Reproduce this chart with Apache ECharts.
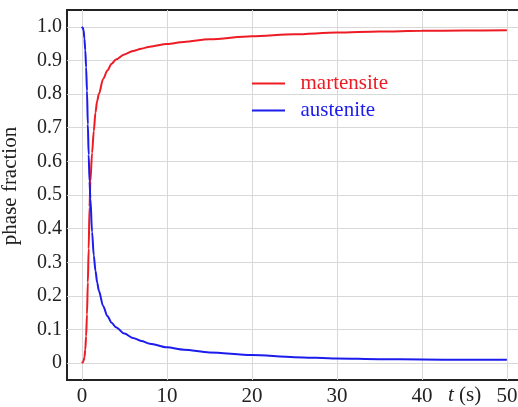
<!DOCTYPE html>
<html>
<head>
<meta charset="utf-8">
<script src="https://cdn.jsdelivr.net/npm/echarts@6/dist/echarts.min.js"></script>
<style>
  html, body { margin: 0; padding: 0; background: #fff; }
  #chart { width: 518px; height: 407px; }
</style>
</head>
<body>
<div id="chart"></div>
<script>
// time (s) and phase fractions
const times = [0, 0.1, 0.2, 0.3, 0.4, 0.5, 0.6, 0.7, 0.8, 0.9, 1.0, 1.2, 1.4, 1.6, 1.8, 2.0, 2.5, 3, 3.5, 4, 5, 6, 7, 8, 10, 12, 15, 20, 25, 30, 35, 40, 45, 50]
const martensite = [0, 0.002, 0.007, 0.018, 0.04, 0.08, 0.145, 0.24, 0.34, 0.465, 0.54, 0.625, 0.69, 0.745, 0.78, 0.80, 0.845, 0.87, 0.89, 0.903, 0.918, 0.928, 0.935, 0.941, 0.949, 0.955, 0.963, 0.972, 0.978, 0.983, 0.986, 0.988, 0.989, 0.99]
const austenite = [1.0, 0.997, 0.99, 0.965, 0.93, 0.88, 0.81, 0.71, 0.62, 0.54, 0.49, 0.39, 0.32, 0.275, 0.24, 0.215, 0.17, 0.14, 0.12, 0.107, 0.088, 0.075, 0.066, 0.058, 0.047, 0.04, 0.032, 0.024, 0.018, 0.014, 0.012, 0.011, 0.01, 0.01]
const xTicks = [0, 10, 20, 30, 40, 50]
const yTicks = [0, 0.1, 0.2, 0.3, 0.4, 0.5, 0.6, 0.7, 0.8, 0.9, 1.0]

const red = '#ed1c24'
const blue = '#1c1ced'
const serif = 'Liberation Serif'

const chart = echarts.init(document.getElementById('chart'))

chart.setOption({
  animation: false,
  backgroundColor: '#fff',
  grid: {
    left: 67, top: 10, width: 460, height: 370,
    outerBoundsMode: 'none',
    containLabel: false,
    show: true, borderColor: '#222', borderWidth: 2, backgroundColor: 'transparent'
  },
  legend: {
    orient: 'vertical',
    left: 252, top: 73,
    padding: 0,
    itemGap: 6,
    itemWidth: 33, itemHeight: 2,
    icon: 'rect',
    formatter: '  {name}',
    textStyle: { fontFamily: serif, fontSize: 21 },
    data: [
      { name: 'martensite', textStyle: { color: red } },
      { name: 'austenite', textStyle: { color: blue } }
    ]
  },
  xAxis: {
    type: 'value',
    min: -1.75,
    max: -1.75 + 460 / 8.5,
    axisLine: { show: false },
    axisTick: { show: false, customValues: xTicks },
    axisLabel: {
      customValues: xTicks,
      color: '#222', fontFamily: serif, fontSize: 21, margin: 6
    },
    splitLine: { show: true, lineStyle: { color: '#d8d8d8', width: 1 } }
  },
  yAxis: {
    type: 'value',
    min: -0.05,
    max: 1.05,
    name: 'phase fraction',
    nameLocation: 'middle',
    nameGap: 46,
    nameTextStyle: { fontFamily: serif, fontSize: 21, color: '#222', padding: [0, 0, 0, 18] },
    axisLine: { show: false },
    axisTick: { show: false, customValues: yTicks },
    axisLabel: {
      customValues: yTicks,
      color: '#222', fontFamily: serif, fontSize: 20, margin: 5,
      formatter: v => (v === 0 ? '0' : v.toFixed(1))
    },
    splitLine: { show: true, lineStyle: { color: '#d8d8d8', width: 1 } }
  },
  graphic: [{
    type: 'text',
    left: 448, top: 385,
    style: {
      text: '{i|t} (s)',
      fontFamily: serif, fontSize: 21, fill: '#222',
      rich: { i: { fontFamily: serif, fontSize: 21, fontStyle: 'italic', fill: '#222' } }
    }
  }],
  series: [
    {
      name: 'martensite',
      type: 'line',
      showSymbol: false,
      smooth: 0.3,
      smoothMonotone: 'x',
      lineStyle: { color: red, width: 2 },
      itemStyle: { color: red },
      data: times.map((t, i) => [t, martensite[i]])
    },
    {
      name: 'austenite',
      type: 'line',
      showSymbol: false,
      smooth: 0.3,
      smoothMonotone: 'x',
      lineStyle: { color: blue, width: 2 },
      itemStyle: { color: blue },
      data: times.map((t, i) => [t, austenite[i]])
    }
  ]
})
</script>
</body>
</html>
